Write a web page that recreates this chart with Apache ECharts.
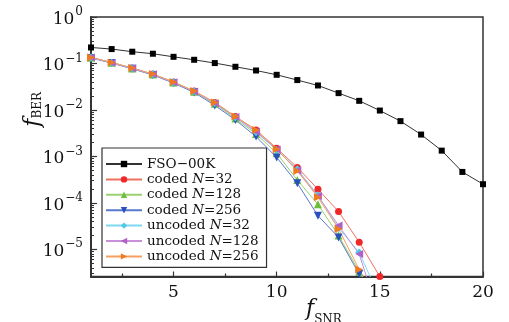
<!DOCTYPE html>
<html>
<head>
<meta charset="utf-8">
<script src="https://cdn.jsdelivr.net/npm/echarts@6/dist/echarts.min.js"></script>
<style>
html,body{margin:0;padding:0;background:#fff;}
#c{width:509px;height:322px;}
</style>
</head>
<body>
<div id="c"></div>
<script>
const snr = [1,2,3,4,5,6,7,8,9,10,11,12,13,14,15,16,17,18,19,20];
const fsoOOK = [0.221,0.204,0.179,0.162,0.139,0.120,0.102,0.0849,0.0706,0.057,0.0439,0.0336,0.023,0.0157,0.0097,0.00574,0.00295,0.00133,4.63e-4,2.52e-4];
const codedN32 = [0.134,0.105,0.0795,0.059,0.0398,0.0254,0.0145,0.0072,0.0037,1.49e-3,5.8e-4,1.96e-4,6.5e-5,1.42e-5,2.6e-6];
const codedN128 = [0.133,0.104,0.078,0.058,0.039,0.0247,0.0135,0.0065,0.00305,1.17e-3,3.1e-4,9.3e-5,1.98e-5,3.3e-6,5e-7];
const codedN256 = [0.131,0.102,0.0765,0.0565,0.0378,0.0238,0.0125,0.0061,0.00267,9.5e-4,2.64e-4,5.3e-5,1.8e-5,2.93e-6,6e-7];
const uncodedN32 = [0.134,0.104,0.079,0.0585,0.0393,0.025,0.014,0.0069,0.0033,1.38e-3,5.3e-4,1.45e-4,2.9e-5,8.5e-6,9e-7];
const uncodedN128 = [0.134,0.104,0.079,0.0585,0.0393,0.025,0.014,0.007,0.0034,1.41e-3,5.0e-4,1.41e-4,3.26e-5,7.9e-6,3.3e-7];
const uncodedN256 = [0.135,0.105,0.0795,0.059,0.0398,0.0254,0.0145,0.0072,0.0037,1.43e-3,4.87e-4,1.32e-4,2.74e-5,3.7e-6,5e-7];
const xTickLabels = [5,10,15,20];
const xMinorTicks = [2.5,7.5,12.5,17.5];
const yTickValues = [1e-5,1e-4,1e-3,1e-2,1e-1,1];
const seriesNames = ['FSO\u221200K','coded N=32','coded N=128','coded N=256','uncoded N=32','uncoded N=128','uncoded N=256'];

const yMinorTicks = [];
for (let e = -6; e <= -1; e++) {
  for (let m = 2; m <= 9; m++) {
    const v = m * Math.pow(10, e);
    if (v >= 2.6e-6 && v <= 1) yMinorTicks.push(v);
  }
}

const FONT = 'DejaVu Serif';
function pairs(arr){ return arr.map((v,i)=>[snr[i], v]); }

function mk(name, data, sym, symColor, lineColor, size, rot){
  return {
    name, type:'line', data: pairs(data), symbol: sym, symbolSize: size,
    symbolRotate: rot || 0,
    itemStyle:{color: symColor},
    lineStyle:{color: lineColor, width:1},
    clip:true, z: 2
  };
}

const chart = echarts.init(document.getElementById('c'), null, {renderer:'canvas'});
chart.setOption({
  animation:false,
  backgroundColor:'#fff',
  grid:{left:91, right:26, top:17, bottom:45.5, show:true, borderColor:'#333', borderWidth:1.5, backgroundColor:'transparent'},
  xAxis:[{
    type:'value', min:1, max:20,
    axisLine:{show:true, onZero:false, lineStyle:{color:'#333', width:2}},
    axisTick:{show:true, inside:true, length:5, customValues: xTickLabels, lineStyle:{color:'#333', width:1.2}},
    axisLabel:{show:true, customValues: xTickLabels, margin:8, color:'#111', fontFamily:FONT, fontSize:17},
    splitLine:{show:false}
  },{
    type:'value', min:1, max:20, position:'bottom',
    axisLine:{show:false},
    axisTick:{show:true, inside:true, length:3, customValues: xMinorTicks, lineStyle:{color:'#333', width:1.2}},
    axisLabel:{show:false},
    splitLine:{show:false}
  }],
  yAxis:[{
    type:'log', logBase:10, min:2.6e-6, max:1,
    axisLine:{show:true, lineStyle:{color:'#333', width:2}},
    axisTick:{show:true, inside:true, length:6, customValues: yTickValues, lineStyle:{color:'#333', width:1.2}},
    axisLabel:{show:true, customValues: yTickValues, margin:8, color:'#111',
      formatter:function(v){
        const e = Math.round(Math.log10(v));
        return '{b|10}{s|' + (e===0 ? '0' : '\u2212' + (-e)) + '}';
      },
      rich:{
        b:{fontFamily:FONT, fontSize:17, color:'#111', lineHeight:22, verticalAlign:'bottom'},
        s:{fontFamily:FONT, fontSize:12, color:'#111', lineHeight:22, verticalAlign:'top', padding:[0,0,0,1]}
      }
    },
    splitLine:{show:false}
  },{
    type:'log', logBase:10, min:2.6e-6, max:1, position:'left',
    axisLine:{show:false},
    axisTick:{show:true, inside:true, length:3, customValues: yMinorTicks, lineStyle:{color:'#333', width:1}},
    axisLabel:{show:false},
    splitLine:{show:false}
  }],
  legend:{
    left:102, top:148, orient:'vertical',
    width:150,
    backgroundColor:'#fff', borderColor:'#333', borderWidth:1.2,
    padding:[9,8,4,3],
    itemWidth:36, itemHeight:8, itemGap:1.4,
    textStyle:{fontFamily:FONT, fontSize:13.5, color:'#111', lineHeight:13.4,
      rich:{i:{fontFamily:FONT, fontSize:13.5, fontStyle:'italic', color:'#111'}}},
    formatter:function(n){ return n.replace(/N=/, '{i|N}='); },
    data: seriesNames
  },
  graphic:[
    {type:'text', left:22, top:92, rotation:Math.PI/2, originX:0, originY:0,
     style:{text:'{f|f}{s|BER}', rich:{
       f:{fontFamily:FONT, fontSize:22, fontStyle:'italic', fill:'#111'},
       s:{fontFamily:FONT, fontSize:12, fill:'#111', verticalAlign:'bottom'}
     }}},
    {type:'text', left:306, top:298,
     style:{text:'{f|f}{s|SNR}', rich:{
       f:{fontFamily:FONT, fontSize:22, fontStyle:'italic', fill:'#111'},
       s:{fontFamily:FONT, fontSize:12, fill:'#111', verticalAlign:'bottom', padding:[0,0,-6,0]}
     }}}
  ],
  series:[
    mk(seriesNames[0], fsoOOK, 'rect', '#000', '#333', 6, 0),
    mk(seriesNames[1], codedN32, 'circle', '#f0282a', '#f07060', 7, 0),
    mk(seriesNames[2], codedN128, 'triangle', '#6cbf3c', '#9ad070', 8, 0),
    mk(seriesNames[3], codedN256, 'triangle', '#2a4fbf', '#5a78cc', 8, 180),
    mk(seriesNames[4], uncodedN32, 'diamond', '#50c8e8', '#80d8f0', 8, 0),
    mk(seriesNames[5], uncodedN128, 'triangle', '#b060c8', '#c890d8', 8, 90),
    mk(seriesNames[6], uncodedN256, 'triangle', '#f07a20', '#f5a060', 8, -90)
  ]
});
</script>
</body>
</html>
